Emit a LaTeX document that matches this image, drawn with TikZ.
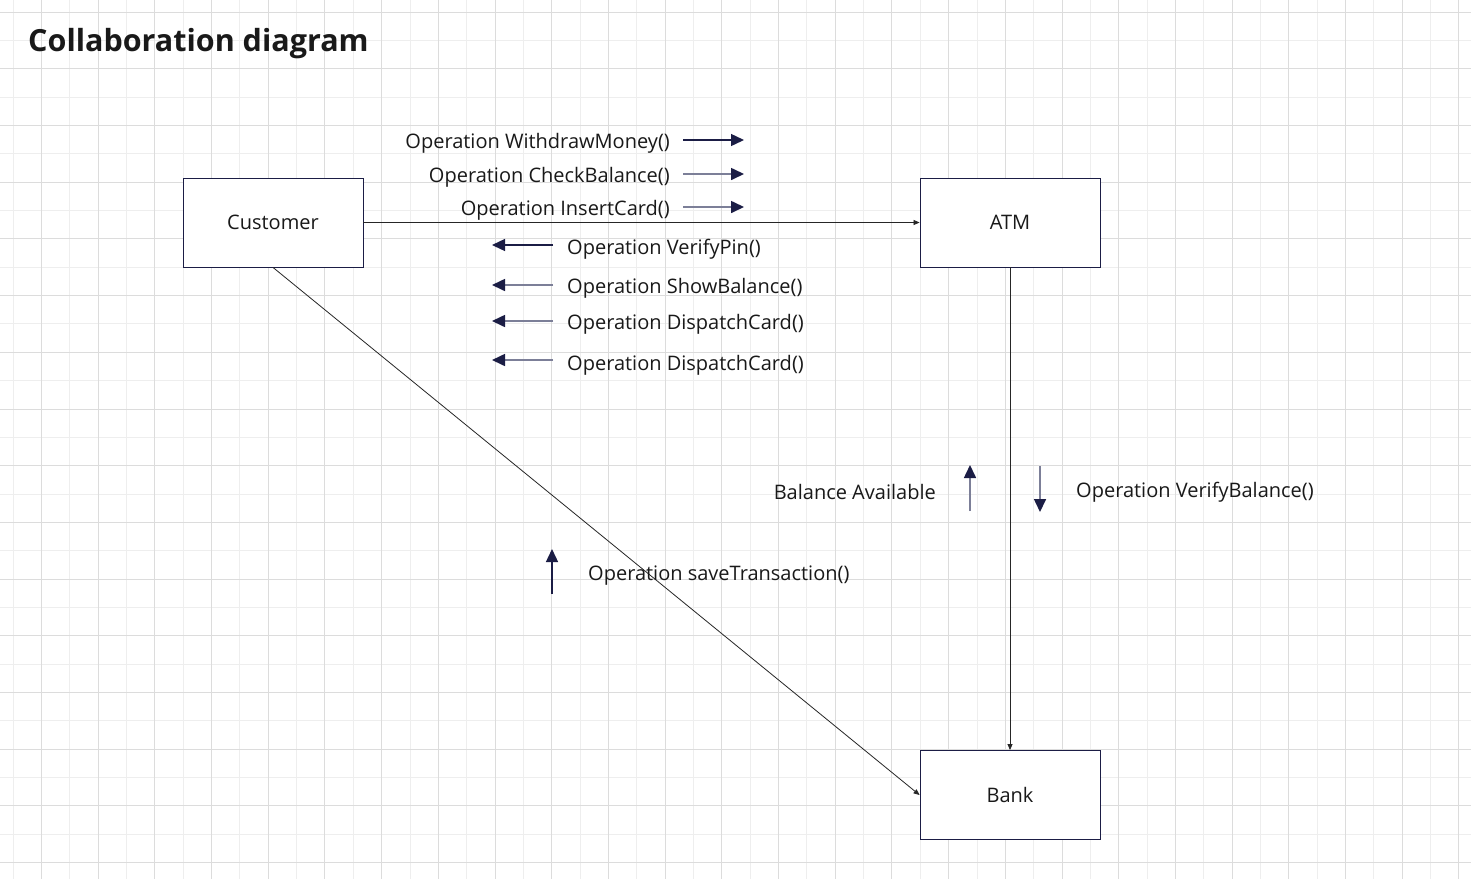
\documentclass[tikz,border=0pt]{standalone}
\usepackage{fontspec}
\setmainfont{Open Sans}
\usetikzlibrary{arrows.meta}
\definecolor{navy}{HTML}{1B1D45}
\definecolor{msggray}{HTML}{7C7F98}
\definecolor{gmaj}{HTML}{DCDCDC}
\definecolor{gmin}{HTML}{EEEEEE}
\begin{document}
\begin{tikzpicture}[x=1pt,y=-1pt,
  box/.style={draw=navy,line width=0.9pt,fill=white,minimum width=180pt,minimum height=89pt,inner sep=0pt,font=\fontsize{20}{24}\selectfont,text=black!90},
  lbl/.style={inner sep=0pt,font=\fontsize{20}{24}\selectfont,text=black!90},
  conn/.style={draw=black!85,line width=0.8pt,-{Triangle[length=6pt,width=5pt]}},
  msgdark/.style={draw=navy,line width=1.4pt,-{Triangle[length=13pt,width=12pt]},color=navy},
  msglight/.style={draw=msggray,line width=1.6pt,-{Triangle[length=13pt,width=12pt,fill=navy,color=navy]}},
]
\useasboundingbox (0,0) rectangle (1471,879);
\fill[white] (0,0) rectangle (1471,879);
% grid
\foreach \i in {0,...,52} {\draw[gmin,line width=0.8pt] ({13+28.35*\i},0) -- ({13+28.35*\i},879);}
\foreach \i in {0,...,31} {\draw[gmin,line width=0.8pt] (0,{12+28.35*\i}) -- (1471,{12+28.35*\i});}
\foreach \i in {0,...,25} {\draw[gmaj,line width=0.8pt] ({41.35+56.7*\i},0) -- ({41.35+56.7*\i},879);}
\foreach \i in {0,...,15} {\draw[gmaj,line width=0.8pt] (0,{12+56.7*\i}) -- (1471,{12+56.7*\i});}

% title
\node[anchor=west,inner sep=0pt,font=\fontsize{30.5}{36}\selectfont\bfseries,text=black!90] (title) at (28,44) {Collaboration diagram};

% boxes
\node[box] (cust) at (273,222.5) {Customer};
\node[box] (atm) at (1010,222.5) {ATM};
\node[box] (bank) at (1010,795) {Bank};

% connectors
\draw[conn] (cust) -- (atm);
\draw[conn] (atm) -- (bank);
\draw[conn] (cust.south) -- (bank.west);

% messages Customer -> ATM
\node[lbl,anchor=east] (m1) at (670,143) {Operation WithdrawMoney()};
\node[lbl,anchor=east] (m2) at (670,177) {Operation CheckBalance()};
\node[lbl,anchor=east] (m3) at (670,210) {Operation InsertCard()};
\coordinate (a1s) at (683,140); \coordinate (a1e) at (744,140);
\coordinate (a2s) at (683,174); \coordinate (a2e) at (744,174);
\coordinate (a3s) at (683,207); \coordinate (a3e) at (744,207);
\draw[msgdark] (a1s) -- (a1e);
\draw[msglight] (a2s) -- (a2e);
\draw[msglight] (a3s) -- (a3e);

% messages ATM -> Customer
\node[lbl,anchor=west] (m4) at (567,249) {Operation VerifyPin()};
\node[lbl,anchor=west] (m5) at (567,288) {Operation ShowBalance()};
\node[lbl,anchor=west] (m6) at (567,324) {Operation DispatchCard()};
\node[lbl,anchor=west] (m7) at (567,365) {Operation DispatchCard()};
\coordinate (a4s) at (553,245); \coordinate (a4e) at (492,245);
\coordinate (a5s) at (553,285); \coordinate (a5e) at (492,285);
\coordinate (a6s) at (553,321); \coordinate (a6e) at (492,321);
\coordinate (a7s) at (553,360); \coordinate (a7e) at (492,360);
\draw[msgdark] (a4s) -- (a4e);
\draw[msglight] (a5s) -- (a5e);
\draw[msglight] (a6s) -- (a6e);
\draw[msglight] (a7s) -- (a7e);

% ATM <-> Bank
\node[lbl,anchor=east] (m8) at (936,492) {Balance Available};
\node[lbl,anchor=west] (m9) at (1076,492) {Operation VerifyBalance()};
\coordinate (a8s) at (970,511); \coordinate (a8e) at (970,465);
\coordinate (a9s) at (1040,466); \coordinate (a9e) at (1040,512);
\draw[msglight] (a8s) -- (a8e);
\draw[msglight] (a9s) -- (a9e);

% Customer -> Bank
\node[lbl,anchor=west] (m10) at (588,576) {Operation saveTransaction()};
\coordinate (a10s) at (552,594); \coordinate (a10e) at (552,549);
\draw[msgdark] (a10s) -- (a10e);
\end{tikzpicture}
\end{document}
